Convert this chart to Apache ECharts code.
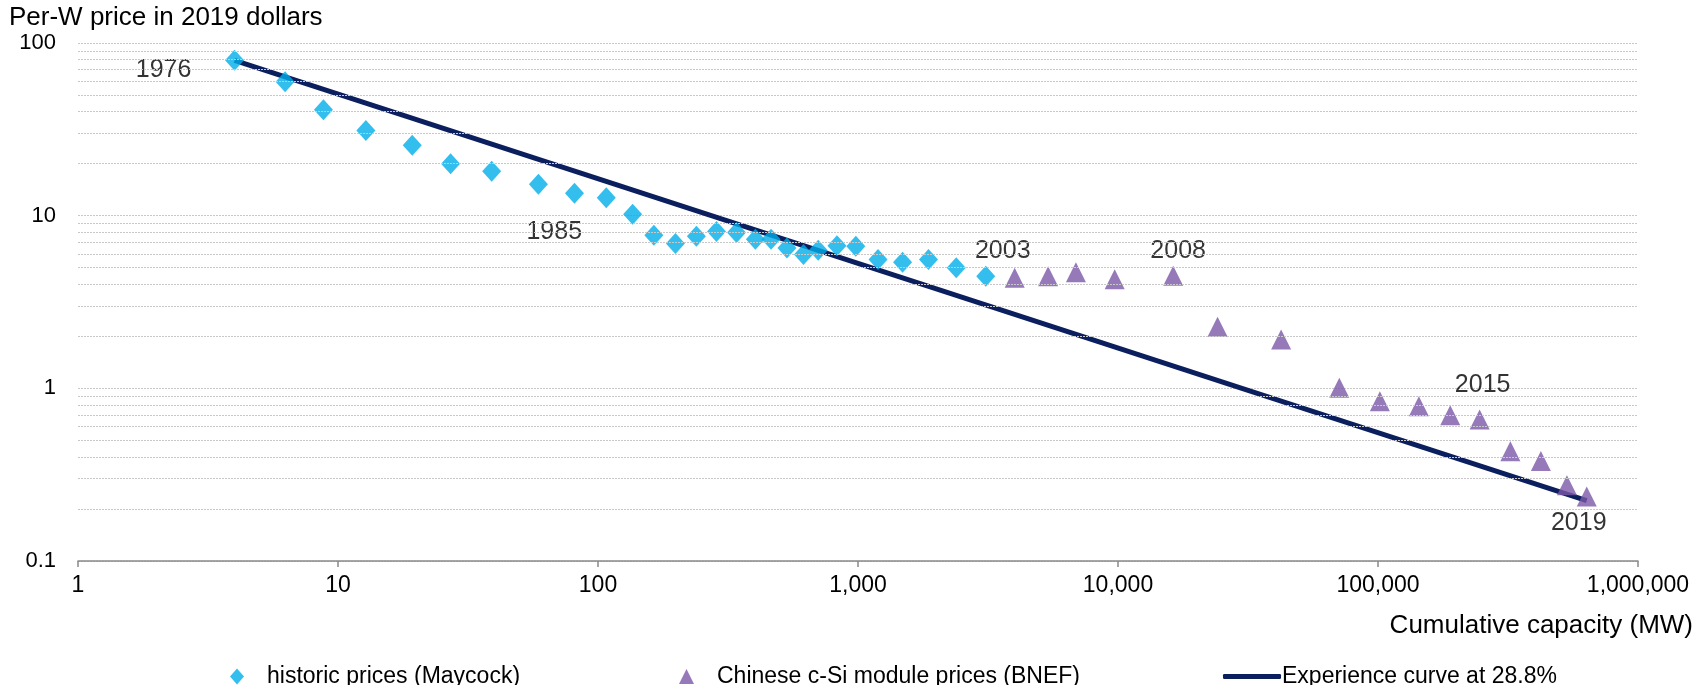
<!DOCTYPE html>
<html>
<head>
<meta charset="utf-8">
<script src="https://cdn.jsdelivr.net/npm/echarts@6/dist/echarts.min.js"></script>
<style>
  html, body { margin: 0; padding: 0; background: #fff; }
  #main { width: 1700px; height: 685px; }
</style>
</head>
<body>
<div id="main"></div>
<script>
// historic prices (Maycock), 1976 - 2003
const maycockYears = [1976, 1977, 1978, 1979, 1980, 1981, 1982, 1983, 1984, 1985, 1986, 1987, 1988, 1989,
  1990, 1991, 1992, 1993, 1994, 1995, 1996, 1997, 1998, 1999, 2000, 2001, 2002, 2003];
const maycockCapacity = [4.0, 6.26, 8.79, 12.8, 19.3, 27.1, 39.0, 59.0, 81.2, 107.6, 135.9, 164, 198.5, 239,
  285.6, 341, 403, 463, 533, 617, 703, 830, 981, 1194, 1484, 1867, 2387, 3100];
const maycockPrice = [79.4, 59.7, 41.1, 31.1, 25.6, 20.0, 18.1, 15.2, 13.5, 12.7, 10.2, 7.7, 6.9, 7.6,
  8.1, 8.0, 7.3, 7.3, 6.5, 5.96, 6.3, 6.7, 6.65, 5.57, 5.37, 5.57, 4.99, 4.46];

// Chinese c-Si module prices (BNEF), 2004 - 2019
const bnefYears = [2004, 2005, 2006, 2007, 2008, 2009, 2010, 2011, 2012, 2013, 2014, 2015, 2016, 2017, 2018, 2019];
const bnefCapacity = [4006, 5385, 6890, 9710, 16300, 24150, 42400, 71000, 101700, 143600, 189600, 246000,
  323000, 423000, 533000, 635000];
const bnefPrice = [4.37, 4.46, 4.70, 4.28, 4.49, 2.27, 1.92, 1.007, 0.841, 0.787, 0.698, 0.659,
  0.432, 0.379, 0.275, 0.236];

// experience curve end points
const curveCapacity = [4.0, 635000];
const curvePrice = [79.4, 0.224];

// tick labels / minor grid
const xTicks = [1, 10, 100, 1000, 10000, 100000, 1000000];
const yTicks = [0.1, 1, 10, 100];
const yMinorGrid = [0.2, 0.3, 0.4, 0.5, 0.6, 0.7, 0.8, 0.9, 2, 3, 4, 5, 6, 7, 8, 9, 20, 30, 40, 50, 60, 70, 80, 90];

// which years get a text label
const labelYears = [1976, 1985, 2003, 2008, 2015, 2019];
const labelOffsets = {1976: [-71, 10], 1985: [-52, 34], 2003: [17, -25], 2008: [5, -25], 2015: [3, -34], 2019: [-8, 26]};

const FONT = '"Liberation Sans", Arial, sans-serif';
const gridStyle = {color: '#c8c8c8', width: 1, type: [2, 1]};

function pts(xs, ys, years) {
  return xs.map((x, i) => {
    const item = {value: [x, ys[i]]};
    if (years && labelYears.indexOf(years[i]) >= 0) {
      item.label = {
        show: true, position: 'inside', formatter: String(years[i]),
        offset: labelOffsets[years[i]], color: '#000', textBorderWidth: 0,
        fontSize: 25, fontFamily: FONT
      };
    }
    return item;
  });
}

let chart = echarts.init(document.getElementById('main'));
let option = {
  animation: false,
  textStyle: {fontFamily: FONT},
  grid: {left: 78, right: 62, top: 43, bottom: 124},
  xAxis: {
    type: 'log', logBase: 10, min: xTicks[0], max: xTicks[xTicks.length - 1],
    axisLine: {show: true, lineStyle: {color: '#898989', width: 1.5}},
    axisTick: {show: true, length: 6, lineStyle: {color: '#898989', width: 1.5}},
    splitLine: {show: false},
    axisLabel: {
      color: '#000', fontSize: 23, fontFamily: FONT, margin: 13,
      formatter: v => Math.round(v).toLocaleString('en-US')
    }
  },
  yAxis: {
    type: 'log', logBase: 10, min: yTicks[0], max: yTicks[yTicks.length - 1],
    axisLine: {show: false},
    axisTick: {show: false},
    splitLine: {show: true, lineStyle: gridStyle},
    axisLabel: {
      color: '#000', fontSize: 22, fontFamily: FONT, margin: 22,
      formatter: v => String(Number(v.toPrecision(6)))
    }
  },
  legend: [
    {left: 225, top: 660, data: ['historic prices (Maycock)'], icon: 'diamond', itemWidth: 14, itemHeight: 16,
      textStyle: {color: '#000', fontSize: 23, fontFamily: FONT, padding: [0, 0, 0, 18]}},
    {left: 674, top: 660, data: ['Chinese c-Si module prices (BNEF)'], icon: 'triangle', itemWidth: 15, itemHeight: 15,
      textStyle: {color: '#000', fontSize: 23, fontFamily: FONT, padding: [0, 0, 0, 18]}},
    {left: 1218, top: 660, data: ['Experience curve at 28.8%'], icon: 'roundRect', itemWidth: 58, itemHeight: 5,
      textStyle: {color: '#000', fontSize: 23, fontFamily: FONT, padding: [0, 0, 0, -4]}}
  ],
  graphic: [
    {type: 'text', left: 9, top: 5, style: {text: 'Per-W price in 2019 dollars', fill: '#000', font: '26px ' + FONT}},
    {type: 'text', right: 7, top: 613, style: {text: 'Cumulative capacity (MW)', fill: '#000', font: '26px ' + FONT}}
  ],
  series: [
    {
      name: 'minor grid', type: 'line', data: [], silent: true,
      markLine: {
        silent: true, symbol: 'none', label: {show: false},
        lineStyle: gridStyle, animation: false,
        data: yMinorGrid.map(v => ({yAxis: v}))
      }
    },
    {
      name: 'Experience curve at 28.8%', type: 'line', z: 3,
      data: pts(curveCapacity, curvePrice),
      showSymbol: false, symbol: 'none',
      lineStyle: {color: '#0B1F5E', width: 5},
      itemStyle: {color: '#0B1F5E'}
    },
    {
      name: 'historic prices (Maycock)', type: 'scatter', z: 4,
      symbol: 'diamond', symbolSize: [19, 21],
      itemStyle: {color: '#00AEEA'},
      data: pts(maycockCapacity, maycockPrice, maycockYears)
    },
    {
      name: 'Chinese c-Si module prices (BNEF)', type: 'scatter', z: 4,
      symbol: 'triangle', symbolSize: [20, 20],
      itemStyle: {color: '#7A57A8'},
      data: pts(bnefCapacity, bnefPrice, bnefYears)
    }
  ]
};
chart.setOption(option);
</script>
</body>
</html>
